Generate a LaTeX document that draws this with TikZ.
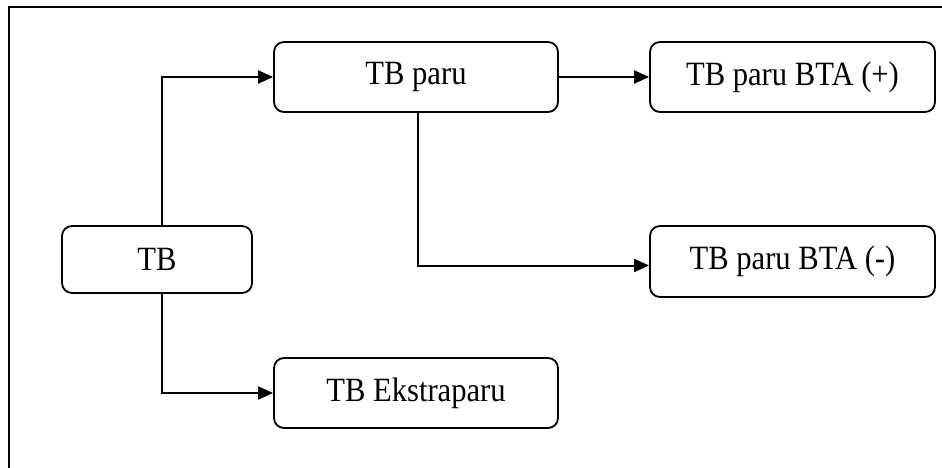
\documentclass[tikz,border=0pt]{standalone}
\usepackage{fontspec}
\setmainfont[FakeStretch=0.9]{Liberation Serif}
\usetikzlibrary{arrows.meta}
\begin{document}
\begin{tikzpicture}[x=1pt,y=-1pt,
  boxnode/.style={draw, line width=1.8pt, rounded corners=10pt, inner sep=0pt,
    font=\fontsize{34}{40}\selectfont, align=center},
  conn/.style={line width=2pt, -{Triangle[length=15pt,width=13pt]}},
  frameline/.style={line width=2pt}]
\useasboundingbox (0,0) rectangle (942,468);
\draw[frameline] (9,468) -- (9,7) -- (942,7);
\node[boxnode, minimum width=190pt, minimum height=67pt] (tb) at (157,259.5) {TB};
\node[boxnode, minimum width=284pt, minimum height=70pt] (paru) at (416,77) {TB paru};
\node[boxnode, minimum width=285pt, minimum height=70pt] (plus) at (792.5,77) {TB paru BTA (+)};
\node[boxnode, minimum width=285pt, minimum height=71pt] (minus) at (792.5,261.5) {TB paru BTA (-)};
\node[boxnode, minimum width=284pt, minimum height=70pt] (ekstra) at (416,393) {TB Ekstraparu};
\coordinate (j1) at (162,0);
\draw[conn] (tb.north -| j1) |- (paru.west);
\draw[conn] (tb.south -| j1) |- (ekstra.west);
\draw[conn] (paru.east) -- (plus.west);
\draw[conn] ([xshift=1.5pt]paru.south) |- ([yshift=-4pt]minus.west);
\end{tikzpicture}
\end{document}
